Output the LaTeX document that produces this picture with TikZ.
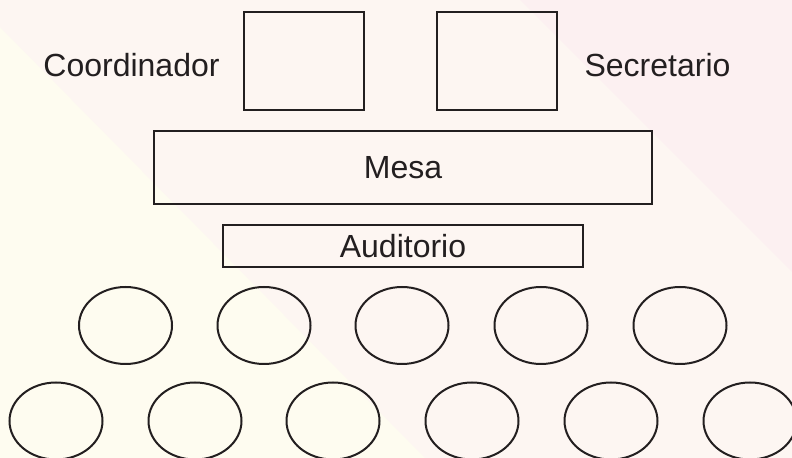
\documentclass[tikz,border=0pt]{standalone}
\usepackage{fontspec}
\setmainfont{Liberation Sans}
\usepackage{tikz}
\usetikzlibrary{shapes}
\definecolor{ink}{RGB}{35,31,32}
\definecolor{cream}{RGB}{254,252,240}
\definecolor{blush}{RGB}{253,246,242}
\definecolor{rose}{RGB}{252,240,241}

\begin{document}
\begin{tikzpicture}[x=0.5pt, y=-0.5pt,
      seat/.style = {
        ellipse, draw=ink, line width=1pt, inner sep=0pt,
        minimum width=46.5pt, minimum height=38.5pt },
      chair/.style = {
        rectangle, draw=ink, line width=1pt, inner sep=0pt,
        minimum width=60pt, minimum height=49pt },
      table/.style = {
        rectangle, draw=ink, line width=1pt, inner sep=0pt,
        text=ink, font=\fontsize{16}{18}\selectfont },
      label/.style = { text=ink, inner sep=0pt, font=\fontsize{16}{18}\selectfont }]
    \useasboundingbox (0,0) rectangle (792,458);
    % background bands
    \fill[cream] (0,0) rectangle (792,458);
    \fill[blush] (0,0) -- (0,27) -- (425,458) -- (792,458) -- (792,0) -- cycle;
    \fill[rose] (520,0) -- (792,272) -- (792,0) -- cycle;
    % chairs and tables
    \node [chair] (coordchair) at (304, 61) {};
    \node [chair] (secchair) at (497, 61) {};
    \node [label] (coord) at (131.5, 65) {Coordinador};
    \node [label] (sec) at (657.5, 65) {Secretario};
    \node [table, minimum width=249pt, minimum height=36.5pt] (mesa) at (403, 167.5) {Mesa};
    \node [table, minimum width=180pt, minimum height=21pt] (auditorio) at (403, 246) {Auditorio};
    % first row of seats
    \node [seat] (s11) at (125.5, 325.5) {};
    \node [seat] (s12) at (264, 325.5) {};
    \node [seat] (s13) at (402, 325.5) {};
    \node [seat] (s14) at (541, 325.5) {};
    \node [seat] (s15) at (680, 325.5) {};
    % second row of seats
    \node [seat] (s21) at (56, 421) {};
    \node [seat] (s22) at (195, 421) {};
    \node [seat] (s23) at (333, 421) {};
    \node [seat] (s24) at (472, 421) {};
    \node [seat] (s25) at (611, 421) {};
    \node [seat] (s26) at (750, 421) {};
  \end{tikzpicture}
\end{document}
